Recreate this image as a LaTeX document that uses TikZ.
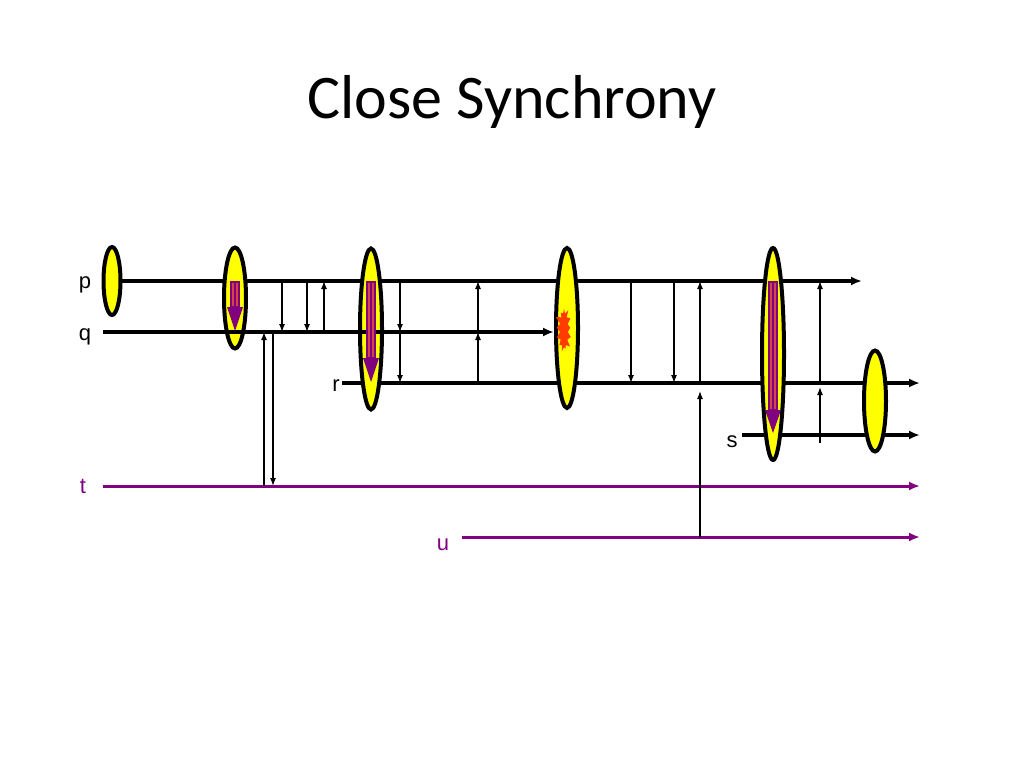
\documentclass[tikz,border=0pt]{standalone}
\usepackage{fontspec}
\setmainfont{Carlito}
\newfontfamily\lblfont{Liberation Sans}
\usetikzlibrary{arrows.meta, shapes.geometric, shapes.symbols}
\definecolor{evtyellow}{RGB}{255,255,0}
\definecolor{chanpurple}{RGB}{128,0,128}
\definecolor{burstred}{RGB}{255,60,0}
\definecolor{shaftred}{RGB}{210,70,70}
\tikzset{>=Latex,
  proc/.style={line width=3.4pt, -{Latex[length=11pt,width=9pt]}},
  chan/.style={proc, line width=3pt, chanpurple},
  msg/.style={line width=1.3pt, -{Latex[length=8pt,width=6pt]}},
  evt/.style={ellipse, draw, line width=4pt, fill=evtyellow, inner sep=0pt, minimum width=22pt},
  lbl/.style={anchor=base, font=\lblfont\fontsize{22}{26}\selectfont},
  shaft/.style={fill=shaftred, draw=chanpurple, line width=1.2pt},
  head/.style={fill=chanpurple, draw=none},
}
\begin{document}
\begin{tikzpicture}[x=1pt, y=-1pt]
\useasboundingbox (0,0) rectangle (1024,768);
\node[anchor=base, font=\fontsize{62}{70}\selectfont] (title) at (512,118) {Close Synchrony};

% process lines
\coordinate (p0) at (112,281); \coordinate (p1) at (862,281);
\coordinate (q0) at (103,332); \coordinate (q1) at (554,332);
\coordinate (r0) at (342,383); \coordinate (r1) at (920,383);
\coordinate (s0) at (742,435); \coordinate (s1) at (920,435);
\coordinate (t0) at (103,486); \coordinate (t1) at (920,486);
\coordinate (u0) at (462,537); \coordinate (u1) at (920,537);
\draw[proc] (p0) -- (p1);
\draw[proc] (r0) -- (r1);
\draw[proc] (s0) -- (s1);
\draw[chan] (t0) -- (t1);
\draw[chan] (u0) -- (u1);

\node[lbl] (plbl) at (85,288) {p};
\node[lbl] (qlbl) at (85,340) {q};
\node[lbl] (rlbl) at (336,391) {r};
\node[lbl] (slbl) at (732,447) {s};
\node[lbl, chanpurple] (tlbl) at (83,493) {t};
\node[lbl, chanpurple] (ulbl) at (443,550) {u};

% messages
\draw[msg] (264,0 |- t0) -- (264,0 |- q0);
\draw[msg] (273,0 |- q0) -- (273,0 |- t0);
\draw[msg] (282,0 |- p0) -- (282,0 |- q0);
\draw[msg] (307,0 |- p0) -- (307,0 |- q0);
\draw[msg] (324,0 |- q0) -- (324,0 |- p0);
\draw[msg] (400,0 |- p0) -- (400,0 |- q0);
\draw[msg] (400,0 |- q0) -- (400,0 |- r0);
\draw[msg] (478,0 |- r0) -- (478,0 |- q0);
\draw[msg] (478,0 |- q0) -- (478,0 |- p0);
\draw[msg] (631,0 |- p0) -- (631,0 |- r0);
\draw[msg] (674,0 |- p0) -- (674,0 |- r0);
\draw[msg, shorten >=8pt] (700,0 |- u0) -- (700,0 |- r0);
\draw[msg] (700,0 |- r0) -- (700,0 |- p0);
\coordinate (s2) at (820,443);
\draw[msg, shorten >=4pt] (s2) -- (820,0 |- r0);
\draw[msg] (820,0 |- r0) -- (820,0 |- p0);

% events
\node[evt, minimum width=17pt, minimum height=68pt] (e1) at (112,281) {};
\node[evt, minimum height=101pt] (e2) at (235,298) {};
\node[evt, minimum height=161pt] (e3) at (371,329) {};
\node[evt, minimum height=160pt] (e4) at (567,328) {};
\node[evt, minimum height=212pt] (e5) at (773,354) {};
\node[evt, minimum height=101pt] (e6) at (875,401) {};
\draw[proc] (q0) -- (q1);
\node[starburst, fill=burstred, draw=none, minimum width=20pt, minimum height=46pt,
  starburst points=13, starburst point height=6pt, inner sep=0pt] (crash) at (564,330) {};

% ordering arrows
\draw[shaft] (231,282) rectangle (239,307); \draw[chanpurple, line width=1.2pt] (235,282) -- (235,307);
\fill[head] (227,307) -- (243,307) -- (235,331) -- cycle;
\draw[shaft] (367,282) rectangle (375,358); \draw[chanpurple, line width=1.2pt] (371,282) -- (371,358);
\fill[head] (363,358) -- (379,358) -- (371,382) -- cycle;
\draw[shaft] (769,282) rectangle (777,410); \draw[chanpurple, line width=1.2pt] (773,282) -- (773,410);
\fill[head] (765,410) -- (781,410) -- (773,433) -- cycle;
\end{tikzpicture}
\end{document}
